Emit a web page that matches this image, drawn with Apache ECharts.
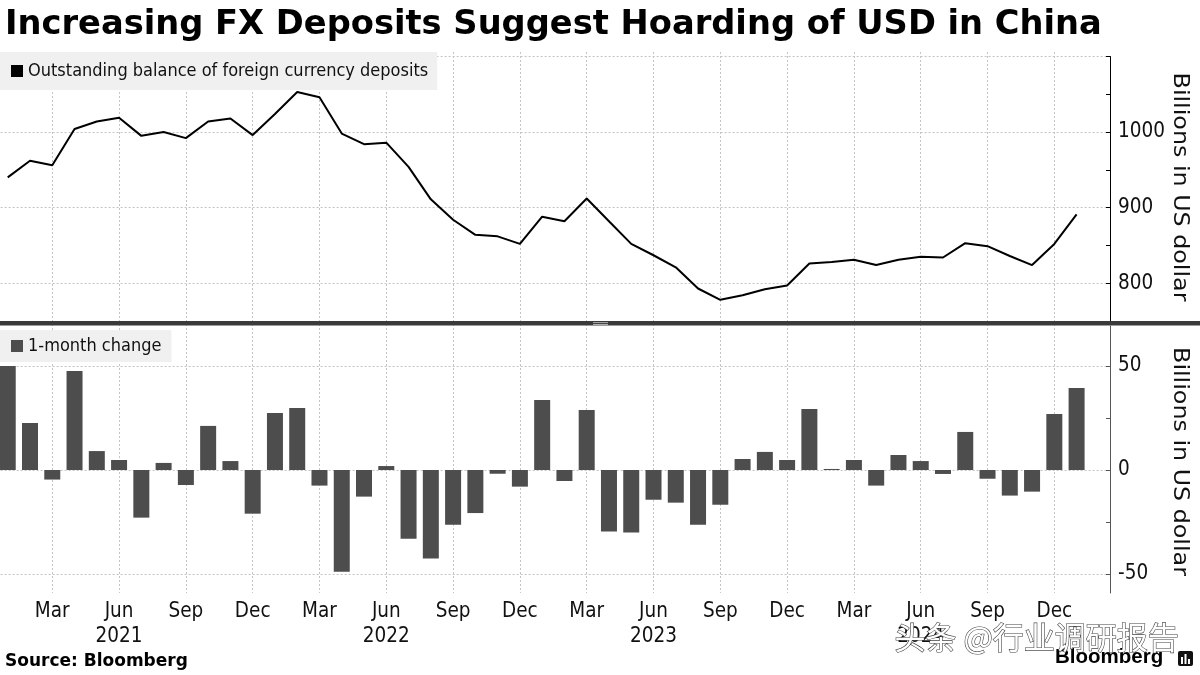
<!DOCTYPE html>
<html>
<head>
<meta charset="utf-8">
<script src="https://cdn.jsdelivr.net/npm/echarts@6/dist/echarts.min.js"></script>
<style>
html,body{margin:0;padding:0;background:#fff;}
#chart{width:1200px;height:675px;}
</style>
</head>
<body>
<div id="chart"></div>
<script>
// ---- data ----
var months = ['2021-01','2021-02','2021-03','2021-04','2021-05','2021-06','2021-07','2021-08','2021-09','2021-10','2021-11','2021-12',
  '2022-01','2022-02','2022-03','2022-04','2022-05','2022-06','2022-07','2022-08','2022-09','2022-10','2022-11','2022-12',
  '2023-01','2023-02','2023-03','2023-04','2023-05','2023-06','2023-07','2023-08','2023-09','2023-10','2023-11','2023-12',
  '2024-01','2024-02','2024-03','2024-04','2024-05','2024-06','2024-07','2024-08','2024-09','2024-10','2024-11','2024-12',
  '2025-01'];
var balance = [940, 962, 956, 1004, 1014, 1019, 995, 1000, 992, 1014, 1018, 996,
  1024, 1053, 1046, 998, 984, 986, 954, 911, 884, 864, 862, 852,
  888, 882, 912, 882, 852, 837, 821, 793, 778, 784, 792, 797,
  826, 828, 831, 824, 831, 835, 834, 853, 849, 836, 824, 852,
  891];
var change = [50, 22.6, -4.6, 47.6, 9.1, 4.8, -22.9, 3.4, -7.2, 21.2, 4.3, -21,
  27.4, 29.8, -7.5, -48.9, -12.8, 1.9, -33, -42.6, -26.3, -20.7, -1.8, -8,
  33.7, -5.3, 28.8, -29.6, -30.1, -14.3, -15.7, -26.3, -16.7, 5.3, 8.7, 4.8,
  29.3, 0.5, 4.8, -7.5, 7.2, 4.3, -1.9, 18.3, -4.2, -12.3, -10.4, 26.9,
  39.4];
var monthNames = {'03':'Mar','06':'Jun','09':'Sep','12':'Dec'};
var balanceTicks = [800, 900, 1000];
var changeTicks = [-50, 0, 50];
var seriesNames = ['Outstanding balance of foreign currency deposits', '1-month change'];
var titleText = 'Increasing FX Deposits Suggest Hoarding of USD in China';
var axisName = 'Billions in US dollar';

var COND = '"DejaVu Sans Condensed", "DejaVu Sans", sans-serif';
var GRID_C = '#c4c4c4';

function isQuarterEnd(idx, val) {
  if (!val) return false;
  return !!monthNames[val.slice(5, 7)];
}
function xLabel(val) {
  if (!val) return '';
  var m = val.slice(5, 7);
  var s = monthNames[m] || '';
  if (m === '06') s += '\n' + val.slice(0, 4);
  return s;
}

var gridLeft = -3.4, gridRight = 90;
function hiddenX(gi) {
  return {type: 'category', gridIndex: gi, data: months, max: 49, boundaryGap: true, show: false};
}
function axisNameText(cy) {
  return {
    type: 'text', x: 1179, y: cy, rotation: -Math.PI / 2, scaleX: 1.16, z: 50,
    style: {text: axisName, fontFamily: '"DejaVu Sans", sans-serif', fontSize: 20.5, fill: '#111',
      align: 'center', verticalAlign: 'middle'}
  };
}

var option = {
  animation: false,
  backgroundColor: '#ffffff',
  title: {
    text: titleText, left: 0, top: 3,
    textStyle: {fontFamily: '"DejaVu Sans", sans-serif', fontWeight: 'bold', fontSize: 33.7, color: '#000'}
  },
  legend: [
    {
      data: [{name: seriesNames[0], icon: 'rect', itemStyle: {color: '#000'}}],
      left: 0, top: 52, orient: 'horizontal',
      backgroundColor: '#f0f0f0', padding: [10, 9, 10, 11],
      itemWidth: 12, itemHeight: 12, selectedMode: false,
      textStyle: {fontFamily: COND, fontSize: 18, color: '#111', lineHeight: 18}
    },
    {
      data: [{name: seriesNames[1], icon: 'rect', itemStyle: {color: '#4d4d4d'}}],
      left: 0, top: 330, orient: 'horizontal',
      backgroundColor: '#f0f0f0', padding: [7, 10, 7, 11],
      itemWidth: 12, itemHeight: 12, selectedMode: false,
      textStyle: {fontFamily: COND, fontSize: 18, color: '#111', lineHeight: 18}
    }
  ],
  grid: [
    {left: gridLeft, right: gridRight, top: 52, bottom: 82, outerBoundsMode: 'none', containLabel: false},
    {left: gridLeft, right: gridRight, top: 56.5, bottom: 354, outerBoundsMode: 'none', containLabel: false},
    {left: gridLeft, right: gridRight, top: 326, bottom: 82, outerBoundsMode: 'none', containLabel: false},
    {left: gridLeft, right: gridRight, top: 366, bottom: 101, outerBoundsMode: 'none', containLabel: false}
  ],
  xAxis: [
    {
      type: 'category', gridIndex: 0, data: months, max: 49, boundaryGap: true,
      axisLine: {show: false},
      axisTick: {show: false},
      axisLabel: {
        interval: isQuarterEnd, formatter: xLabel, margin: 6,
        fontFamily: COND, fontSize: 20.5, color: '#111', lineHeight: 25
      },
      splitLine: {show: true, interval: isQuarterEnd, alignWithLabel: true,
        lineStyle: {color: GRID_C, type: [2, 2], width: 1}}
    },
    hiddenX(1), hiddenX(2), hiddenX(3)
  ],
  yAxis: [
    {type: 'value', gridIndex: 0, show: false, min: 0, max: 1},
    {
      type: 'value', gridIndex: 1, position: 'right', min: 750, max: 1100, interval: 50,
      axisLine: {show: true, lineStyle: {color: '#000', width: 1}},
      axisTick: {show: true, inside: true, length: 4, lineStyle: {color: '#000'}},
      axisLabel: {
        margin: 8, fontFamily: COND, fontSize: 20.5, color: '#111',
        formatter: function (v) { return balanceTicks.indexOf(v) >= 0 ? String(v) : ''; }
      },
      splitLine: {show: true, showMinLine: false,
        lineStyle: {color: [GRID_C, 'transparent'], type: [2, 2], width: 1}}
    },
    {
      type: 'value', gridIndex: 2, position: 'right', min: 0, max: 1,
      axisLine: {show: true, lineStyle: {color: '#555', width: 1}},
      axisTick: {show: false}, axisLabel: {show: false}, splitLine: {show: false}
    },
    {
      type: 'value', gridIndex: 3, position: 'right', min: -50, max: 50, interval: 25,
      axisLine: {show: false},
      axisTick: {show: true, inside: true, length: 4, lineStyle: {color: '#555'}},
      axisLabel: {
        margin: 8, fontFamily: COND, fontSize: 20.5, color: '#111',
        formatter: function (v) { return changeTicks.indexOf(v) >= 0 ? String(v) : ''; }
      },
      splitLine: {show: true,
        lineStyle: {color: [GRID_C, 'transparent'], type: [2, 2], width: 1}}
    }
  ],
  series: [
    {
      name: seriesNames[0], type: 'line', xAxisIndex: 1, yAxisIndex: 1,
      data: balance, symbol: 'none', clip: false,
      lineStyle: {color: '#000', width: 2}, itemStyle: {color: '#000'}
    },
    {
      name: seriesNames[1], type: 'bar', xAxisIndex: 3, yAxisIndex: 3,
      data: change, barWidth: 16, itemStyle: {color: '#4d4d4d'}
    }
  ],
  graphic: [
    {type: 'rect', shape: {x: 0, y: 321, width: 1200, height: 4.5}, style: {fill: '#3a3a3a'}, z: 100},
    {type: 'rect', shape: {x: 593, y: 322.2, width: 15, height: 0.9}, style: {fill: '#bbbbbb'}, z: 101},
    {type: 'rect', shape: {x: 593, y: 324, width: 15, height: 0.9}, style: {fill: '#bbbbbb'}, z: 101},
    axisNameText(187),
    axisNameText(461.5),
    {type: 'text', left: 5, top: 653,
      style: {text: 'Source: Bloomberg', fontFamily: '"DejaVu Sans", sans-serif', fontWeight: 'bold', fontSize: 17, fill: '#000'}},
    {type: 'text', left: 894, top: 621, z: 120,
      style: {text: '头条 @行业调研报告', fontFamily: '"Noto Sans CJK SC", sans-serif', fontSize: 31,
        fill: '#ffffff', stroke: '#444', lineWidth: 1.2}},
    {type: 'text', left: 1055, top: 647, z: 110,
      style: {text: 'Bloomberg', fontFamily: '"Liberation Sans", Arial, sans-serif', fontWeight: 'bold', fontSize: 20.5, fill: '#000'}},
    {type: 'rect', shape: {x: 1178, y: 651, width: 15, height: 15, r: 2}, style: {fill: '#111'}, z: 110},
    {type: 'rect', shape: {x: 1181, y: 657, width: 2, height: 7}, style: {fill: '#fff'}, z: 111},
    {type: 'rect', shape: {x: 1184.5, y: 654, width: 2, height: 10}, style: {fill: '#fff'}, z: 111},
    {type: 'rect', shape: {x: 1188, y: 659, width: 2, height: 5}, style: {fill: '#fff'}, z: 111}
  ]
};

var chart = echarts.init(document.getElementById('chart'), null, {renderer: 'canvas'});
chart.setOption(option);
</script>
</body>
</html>
